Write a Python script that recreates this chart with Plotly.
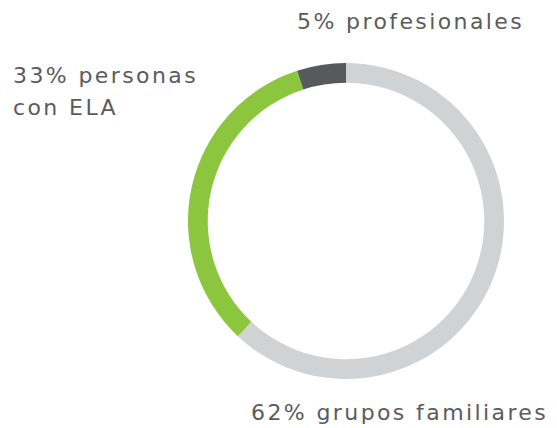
import plotly.graph_objects as go

labels = ["grupos familiares", "personas con ELA", "profesionales"]
values = [62, 33, 5]
colors = ["#d1d2d4", "#8cc63f", "#58595b"]

W, H = 557, 428
cx, cy, r = 346, 221, 158

fig = go.Figure(go.Pie(
    labels=labels, values=values, sort=False, direction="clockwise", rotation=0,
    hole=0.875, marker=dict(colors=colors, line=dict(width=0)),
    textinfo="none", showlegend=False,
    domain=dict(x=[(cx - r) / W, (cx + r) / W], y=[(H - cy - r) / H, (H - cy + r) / H]),
))

font = dict(family="DejaVu Sans", size=22, color="#5a5b5d")

def ann(text, x, y):
    fig.add_annotation(text=text, x=x / W, y=1 - y / H, xref="paper", yref="paper",
                       xanchor="left", yanchor="middle", align="left",
                       showarrow=False, font=font)

ann(f"{values[2]}% profesionales", 295, 22)
ann(f"{values[1]}% personas", 11, 75)
ann("con ELA", 11, 107)
ann(f"{values[0]}% grupos familiares", 249, 412)

fig.update_layout(width=W, height=H, margin=dict(l=0, r=0, t=0, b=0),
                  paper_bgcolor="white", plot_bgcolor="white")

post = """
document.body.style.margin='0';
var gd=document.getElementById('{plot_id}');
gd.querySelectorAll('.annotation-text').forEach(function(t){t.style.letterSpacing='2.4px';});
"""
fig.write_html("out.html", post_script=post, config={"displayModeBar": False})
